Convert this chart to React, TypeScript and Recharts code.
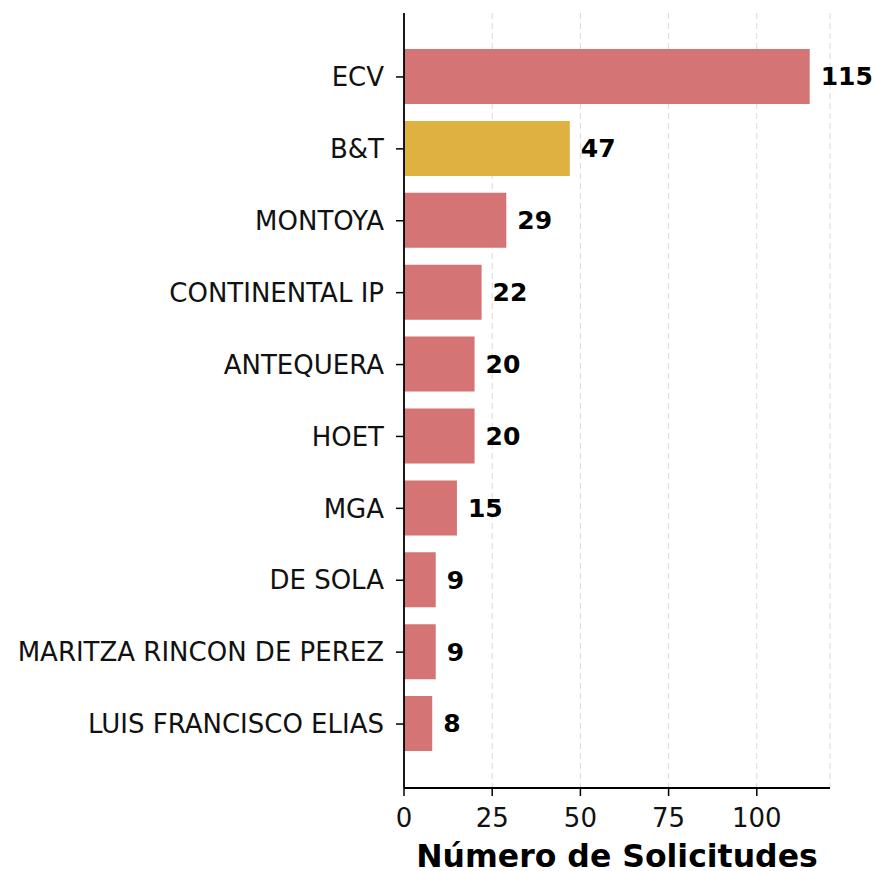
import React from 'react';
import { BarChart, Bar, XAxis, YAxis, CartesianGrid, Cell, LabelList } from 'recharts';

const agents = [
  'ECV',
  'B&T',
  'MONTOYA',
  'CONTINENTAL IP',
  'ANTEQUERA',
  'HOET',
  'MGA',
  'DE SOLA',
  'MARITZA RINCON DE PEREZ',
  'LUIS FRANCISCO ELIAS',
];
const requests = [115, 47, 29, 22, 20, 20, 15, 9, 9, 8];
const highlighted = ['B&T'];
const xTicks = [0, 25, 50, 75, 100];

const RED = '#d47474';
const GOLD = '#dfb140';
const FONT = '"DejaVu Sans", Verdana, sans-serif';

const data = agents.map((name, i) => ({ name, value: requests[i] }));

const TitleLabel = ({ viewBox }: any) => (
  <text
    x={viewBox.x + viewBox.width / 2}
    y={viewBox.y + 79}
    textAnchor="middle"
    fontFamily={FONT}
    fontSize={31.5}
    fontWeight="bold"
    fill="#000"
  >
    Número de Solicitudes
  </text>
);

export default function App() {
  return (
    <div style={{ position: 'absolute', left: 0, top: 0, background: '#fff' }}>
      <BarChart
        width={875}
        height={871}
        data={data}
        layout="vertical"
        margin={{ top: 13, right: 45, bottom: 0, left: 0 }}
      >
        <CartesianGrid
          horizontal={false}
          stroke="#dadada"
          strokeDasharray="6 4"
          strokeWidth={1}
        />
        <XAxis
          type="number"
          domain={[0, 120.75]}
          ticks={xTicks}
          height={83}
          tickSize={8}
          tickMargin={13}
          axisLine={{ stroke: '#000', strokeWidth: 1.8 }}
          tickLine={{ stroke: '#000', strokeWidth: 1.5 }}
          tick={{ fill: '#111', fontSize: 26, fontFamily: FONT }}
          allowDataOverflow
          label={<TitleLabel />}
        />
        <YAxis
          type="category"
          dataKey="name"
          width={404}
          interval={0}
          padding={{ top: 28, bottom: 28 }}
          tickSize={8}
          tickMargin={12}
          axisLine={{ stroke: '#000', strokeWidth: 1.8 }}
          tickLine={{ stroke: '#000', strokeWidth: 1.5 }}
          tick={{ fill: '#111', fontSize: 26, fontFamily: FONT }}
        />
        <Bar dataKey="value" barSize={55} isAnimationActive={false}>
          {data.map((d) => (
            <Cell key={d.name} fill={highlighted.includes(d.name) ? GOLD : RED} />
          ))}
          <LabelList
            dataKey="value"
            position="right"
            offset={11}
            fill="#000"
            fontSize={25}
            fontWeight="bold"
            fontFamily={FONT}
          />
        </Bar>
      </BarChart>
    </div>
  );
}
